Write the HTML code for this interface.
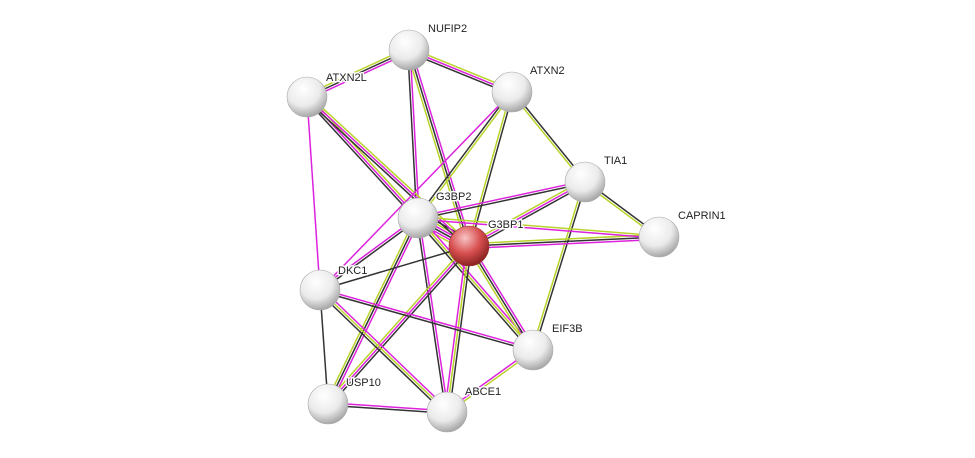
<!DOCTYPE html>
<html><head><meta charset="utf-8"><style>
html,body{margin:0;padding:0;background:#fff;width:975px;height:458px;overflow:hidden}
svg text{font-family:"Liberation Sans",Arial,sans-serif;font-size:11px;fill:#222;stroke:#fff;stroke-width:3px;paint-order:stroke;stroke-linejoin:round}
</style></head><body>
<svg id="s" width="975" height="458" viewBox="0 0 975 458" xmlns="http://www.w3.org/2000/svg">
<defs>
<radialGradient id="g" cx="40%" cy="30%" r="70%">
<stop offset="0" stop-color="#ffffff"/><stop offset="0.6" stop-color="#ebebeb"/><stop offset="1" stop-color="#a8a8a8"/>
</radialGradient>
<radialGradient id="r" cx="40%" cy="30%" r="70%">
<stop offset="0" stop-color="#f7c4c4"/><stop offset="0.55" stop-color="#d85050"/><stop offset="1" stop-color="#8a2222"/>
</radialGradient>
</defs>
<g id="edges"></g>
<g id="nodes"></g>
<text x="428" y="32">NUFIP2</text>
<text x="326" y="81">ATXN2L</text>
<text x="530" y="74">ATXN2</text>
<text x="604" y="164">TIA1</text>
<text x="436" y="200">G3BP2</text>
<text x="488" y="228">G3BP1</text>
<text x="678" y="219">CAPRIN1</text>
<text x="338" y="274">DKC1</text>
<text x="552" y="332">EIF3B</text>
<text x="346" y="386">USP10</text>
<text x="465" y="395">ABCE1</text>
</svg>
<script>
var N={NUFIP2:[409,50],ATXN2L:[307,97],ATXN2:[512,92],TIA1:[585,182],G3BP2:[418,218],G3BP1:[469,246],CAPRIN1:[659,237],DKC1:[320,290],EIF3B:[533,350],USP10:[328,404],ABCE1:[447,412]};
var C={k:"#333333",m:"#dd22dd",y:"#b8d42a"};
var E=[["G3BP1","G3BP2","ymkmyk"],["NUFIP2","ATXN2L","mky"],["NUFIP2","ATXN2","ymk"],["NUFIP2","G3BP2","mk"],["NUFIP2","G3BP1","mky"],
["ATXN2L","G3BP2","ymk"],["ATXN2L","G3BP1","ymk"],["ATXN2L","DKC1","m"],["ATXN2","TIA1","ky"],["ATXN2","G3BP2","yk"],["ATXN2","G3BP1","ky"],["ATXN2","DKC1","m"],
["TIA1","CAPRIN1","ky"],["TIA1","G3BP2","km"],["TIA1","G3BP1","kmy"],["TIA1","EIF3B","ky"],["CAPRIN1","G3BP1","mky"],["CAPRIN1","G3BP2","my"],
["G3BP2","DKC1","km"],["G3BP2","USP10","mky"],["G3BP2","ABCE1","mk"],["G3BP2","EIF3B","myk"],["G3BP1","DKC1","k"],["G3BP1","USP10","kmy"],["G3BP1","ABCE1","kym"],["G3BP1","EIF3B","mky"],
["DKC1","USP10","k"],["DKC1","ABCE1","myk"],["DKC1","EIF3B","mk"],["USP10","ABCE1","mk"],["ABCE1","EIF3B","my"]];
var ns="http://www.w3.org/2000/svg",eg=document.getElementById("edges"),ng=document.getElementById("nodes");
E.forEach(function(e){var a=N[e[0]],b=N[e[1]],dx=b[0]-a[0],dy=b[1]-a[1],L=Math.hypot(dx,dy),px=-dy/L,py=dx/L,n=e[2].length;
for(var i=0;i<n;i++){var o=(i-(n-1)/2)*2.4;var l=document.createElementNS(ns,"line");
l.setAttribute("x1",a[0]+px*o);l.setAttribute("y1",a[1]+py*o);l.setAttribute("x2",b[0]+px*o);l.setAttribute("y2",b[1]+py*o);
l.setAttribute("stroke",C[e[2][i]]);l.setAttribute("stroke-width","1.5");eg.appendChild(l);}});
for(var k in N){var c=document.createElementNS(ns,"circle");c.setAttribute("cx",N[k][0]);c.setAttribute("cy",N[k][1]);c.setAttribute("r",20);
c.setAttribute("fill",k=="G3BP1"?"url(#r)":"url(#g)");c.setAttribute("stroke",k=="G3BP1"?"#9a3030":"#aaa");c.setAttribute("stroke-width","0.6");ng.appendChild(c);}
</script>
</body></html>
